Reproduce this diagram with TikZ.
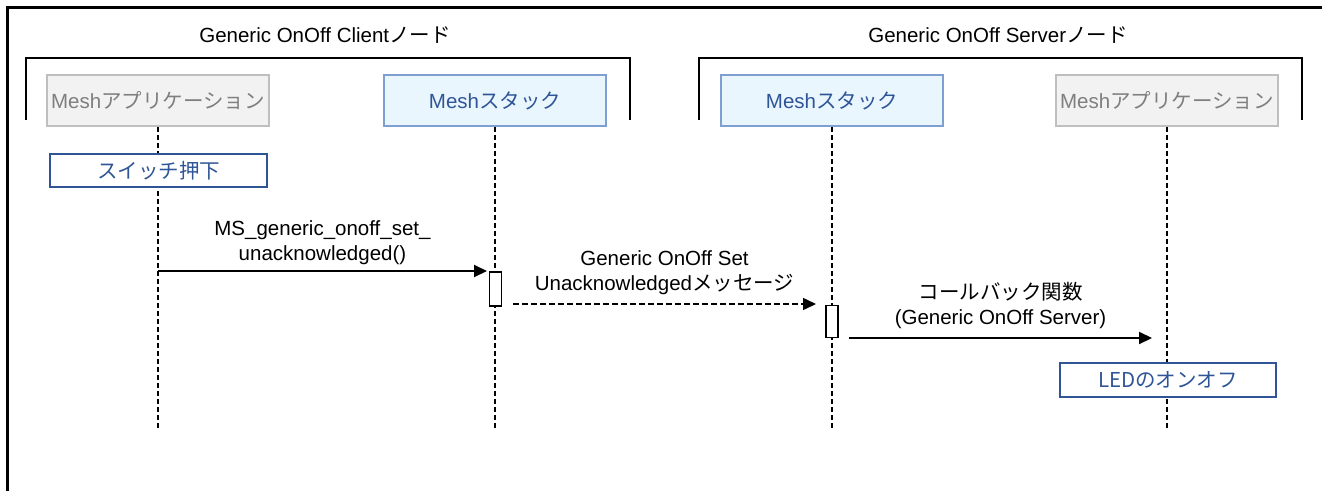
\documentclass[tikz,border=0pt]{standalone}
\usepackage{fontspec}
\setmainfont{Liberation Sans}
\newfontfamily\jpfont{Noto Sans CJK JP}
\newcommand\jp[1]{{\jpfont #1}}
\usetikzlibrary{arrows.meta}
\definecolor{appfill}{HTML}{F2F2F2}
\definecolor{appline}{HTML}{BFBFBF}
\definecolor{apptext}{HTML}{7F7F7F}
\definecolor{stackfill}{HTML}{EAF6FD}
\definecolor{stackline}{HTML}{7F9FD3}
\definecolor{rblue}{HTML}{2F5597}
\tikzset{
    frame/.style={line width=3pt},
    bracket/.style={line width=2pt},
    lifeline/.style={line width=1.5pt, dash pattern=on 5pt off 3pt},
    appbox/.style={draw=appline, fill=appfill, text=apptext, line width=1.5pt,
        minimum width=222pt, minimum height=51pt},
    stackbox/.style={draw=stackline, fill=stackfill, text=rblue, line width=1.5pt,
        minimum width=222pt, minimum height=51pt},
    eventbox/.style={draw=rblue, fill=white, text=rblue, line width=2pt,
        minimum width=217pt, minimum height=33pt},
    actbox/.style={draw, fill=white, line width=1.5pt, minimum width=12pt,
        inner sep=0pt},
    msg/.style={line width=2pt, -{Triangle[length=13pt, width=12pt]}},
    signal/.style={msg, line width=1.5pt, dash pattern=on 6pt off 3pt},
    msglabel/.style={align=center, inner sep=0pt},
}

\begin{document}
\begin{tikzpicture}[x=1pt, y=-1pt, font=\fontsize{20.5}{25}\selectfont]
    \useasboundingbox (0,0) rectangle (1322,491);

    % outer frame and node brackets
    \draw[frame] (7,491) -- (7,7) -- (1322,7);
    \draw[bracket] (26,120) -- (26,58) -- (630,58) -- (630,120);
    \draw[bracket] (699,120) -- (699,58) -- (1302,58) -- (1302,120);
    \node (cname) at (325,35) {Generic OnOff Client\jp{ノード}};
    \node (sname) at (998,35) {Generic OnOff Server\jp{ノード}};

    % participants
    \node[appbox] (capp) at (158,100.5) {Mesh\jp{アプリケーション}};
    \node[stackbox] (cstack) at (495,100.5) {Mesh\jp{スタック}};
    \node[stackbox] (sstack) at (832,100.5) {Mesh\jp{スタック}};
    \node[appbox] (sapp) at (1167,100.5) {Mesh\jp{アプリケーション}};

    % lifelines
    \coordinate (capp end) at (158,430);
    \coordinate (cstack end) at (495,430);
    \coordinate (sstack end) at (832,430);
    \coordinate (sapp end) at (1167,430);
    \foreach \p in {capp, cstack, sstack, sapp}
        \draw[lifeline] (\p.south) -- (\p\space end);

    % activations and events
    \node[eventbox] (switch) at (158.5,170.5) {\jp{スイッチ押下}};
    \node[actbox, minimum height=34pt] (act1) at (495.5,289) {};
    \node[actbox, minimum height=32pt] (act2) at (832,321.5) {};
    \node[eventbox, minimum width=216pt, minimum height=34pt] (led) at (1168,380) {\jp{LEDのオンオフ}};

    % messages
    \coordinate (m1 start) at (158,271);
    \coordinate (m1 end) at (487,271);
    \coordinate (m2 start) at (513,304);
    \coordinate (m2 end) at (816,304);
    \coordinate (m3 start) at (849,338);
    \coordinate (m3 end) at (1152,338);
    \draw[msg] (m1 start) -- node[msglabel, above=5pt] (m1 label)
        {MS\_generic\_onoff\_set\_\\unacknowledged()} (m1 end);
    \draw[signal] (m2 start) -- node[msglabel, above=9pt] (m2 label)
        {Generic OnOff Set\\Unacknowledged\jp{メッセージ}} (m2 end);
    \draw[msg] (m3 start) -- node[msglabel, above=8pt] (m3 label)
        {\jp{コールバック関数}\\(Generic OnOff Server)} (m3 end);
\end{tikzpicture}
\end{document}
